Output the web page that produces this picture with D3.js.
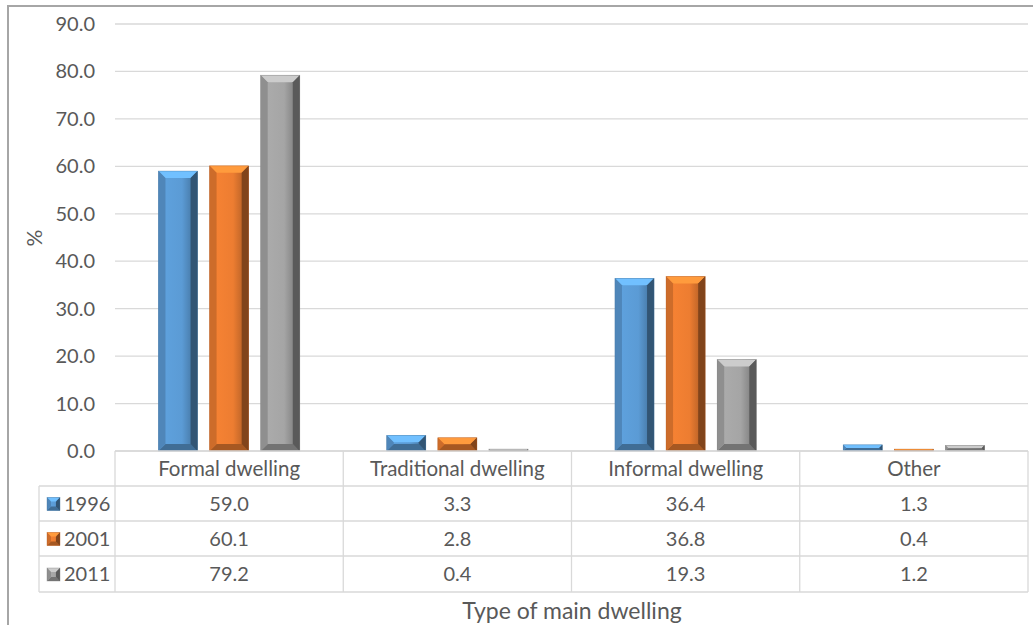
<!DOCTYPE html>
<html><head><meta charset="utf-8">
<script src="https://cdn.jsdelivr.net/npm/d3@7"></script>
<style>
html,body{margin:0;padding:0;background:#fff;}
svg text{font-family:Lato,"Open Sans",sans-serif;fill:#595959;}
</style></head>
<body>
<svg id="chart" width="1033" height="625"></svg>
<script>
const categories = ["Formal dwelling","Traditional dwelling","Informal dwelling","Other"];
const years = ["1996","2001","2011"];
const values1996 = [59.0, 3.3, 36.4, 1.3];
const values2001 = [60.1, 2.8, 36.8, 0.4];
const values2011 = [79.2, 0.4, 19.3, 1.2];
const yTicks = [0,10,20,30,40,50,60,70,80,90];
const yTitle = "%";
const xTitle = "Type of main dwelling";
const colors = ["#5B9BD5","#ED7D31","#A5A5A5"];

const series = [values1996, values2001, values2011];
const svg = d3.select("#chart");

// frame
svg.append("path").attr("d","M8,625 V6 H1033").attr("fill","none").attr("stroke","#a6a6a6").attr("stroke-width",2);

const y = d3.scaleLinear().domain([0,90]).range([451,24]);
const x0 = d3.scaleBand().domain(categories).range([115,1028]);
const x1 = d3.scaleBand().domain(years).range([0,x0.bandwidth()]).paddingInner(0.235).paddingOuter(0.85);

// gridlines
svg.append("g").selectAll("line").data(yTicks).join("line")
  .attr("x1",115).attr("x2",1028).attr("y1",d=>y(d)).attr("y2",d=>y(d))
  .attr("stroke","#d9d9d9").attr("stroke-width",1.3);
svg.append("g").selectAll("text").data(yTicks).join("text")
  .attr("x",95).attr("y",d=>y(d)).attr("dy","0.35em").attr("text-anchor","end")
  .attr("font-size",20).text(d=>d.toFixed(1));

svg.append("text").attr("transform","translate(35,238) rotate(-90)").attr("text-anchor","middle")
  .attr("dy","0.35em").attr("font-size",21).text(yTitle);

const defs = svg.append("defs");
colors.forEach((c,i)=>{
  const g = defs.append("linearGradient").attr("id","g"+i).attr("x1","0").attr("x2","1").attr("y1","0").attr("y2","0");
  const base = d3.color(c);
  g.append("stop").attr("offset","0").attr("stop-color",base.darker(0.3));
  g.append("stop").attr("offset","0.15").attr("stop-color",base.brighter(0.1));
  g.append("stop").attr("offset","0.6").attr("stop-color",base);
  g.append("stop").attr("offset","0.85").attr("stop-color",base.darker(0.6));
  g.append("stop").attr("offset","1").attr("stop-color",base.darker(1.6));
});

function bevelBar(sel, x, yTop, w, h, i, bmax){
  const c = d3.color(colors[i]);
  const b = Math.min(bmax, h/2, w/2);
  const g = sel.append("g");
  g.append("rect").attr("x",x).attr("y",yTop).attr("width",w).attr("height",h).attr("fill",`url(#g${i})`);
  if(h<=0) return;
  g.append("path").attr("d",`M${x},${yTop} H${x+w} L${x+w-b},${yTop+b} H${x+b} Z`).attr("fill",c.brighter(0.6));
  g.append("path").attr("d",`M${x},${yTop+h} H${x+w} L${x+w-b},${yTop+h-b} H${x+b} Z`).attr("fill",c.darker(1.0));
  g.append("path").attr("d",`M${x},${yTop} L${x+b},${yTop+b} V${yTop+h-b} L${x},${yTop+h} Z`).attr("fill",c.darker(0.4));
  g.append("path").attr("d",`M${x+w},${yTop} L${x+w-b},${yTop+b} V${yTop+h-b} L${x+w},${yTop+h} Z`).attr("fill",c.darker(1.7));
  g.append("rect").attr("x",x).attr("y",yTop).attr("width",w).attr("height",h).attr("fill","none").attr("stroke",c.darker(0.8)).attr("stroke-width",0.6).attr("stroke-opacity",0.6);
}

const barsG = svg.append("g");
categories.forEach((cat,ci)=>{
  years.forEach((yr,si)=>{
    const v = series[si][ci];
    const xx = x0(cat)+x1(yr);
    bevelBar(barsG, xx, y(v), x1.bandwidth(), y(0)-y(v), si, 7);
  });
});

// data table
const rowY = [451,486,521,556,592];
const legLeft = 39;
const tg = svg.append("g").attr("stroke","#d9d9d9").attr("stroke-width",1.3);
tg.append("line").attr("x1",115).attr("x2",1028).attr("y1",rowY[0]).attr("y2",rowY[0]);
rowY.slice(1).forEach(yy=>tg.append("line").attr("x1",legLeft).attr("x2",1028).attr("y1",yy).attr("y2",yy));
tg.append("line").attr("x1",legLeft).attr("x2",legLeft).attr("y1",rowY[1]).attr("y2",rowY[4]);
categories.forEach(cat=>tg.append("line").attr("x1",x0(cat)).attr("x2",x0(cat)).attr("y1",rowY[0]).attr("y2",rowY[4]));
tg.append("line").attr("x1",1028).attr("x2",1028).attr("y1",rowY[0]).attr("y2",rowY[4]);

svg.append("g").selectAll("text").data(categories).join("text")
  .attr("x",d=>x0(d)+x0.bandwidth()/2).attr("y",(rowY[0]+rowY[1])/2).attr("dy","0.35em")
  .attr("text-anchor","middle").attr("font-size",20.5).text(d=>d);

years.forEach((yr,si)=>{
  const cy = (rowY[si+1]+rowY[si+2])/2;
  bevelBar(svg, 47, cy-6, 13, 13, si, 4);
  svg.append("text").attr("x",64).attr("y",cy).attr("dy","0.35em").attr("font-size",20).text(yr);
  categories.forEach((cat,ci)=>{
    svg.append("text").attr("x",x0(cat)+x0.bandwidth()/2).attr("y",cy).attr("dy","0.35em")
      .attr("text-anchor","middle").attr("font-size",20).text(series[si][ci].toFixed(1));
  });
});

svg.append("text").attr("x",572).attr("y",611).attr("dy","0.35em").attr("text-anchor","middle")
  .attr("font-size",23).text(xTitle);
</script>
</body></html>
